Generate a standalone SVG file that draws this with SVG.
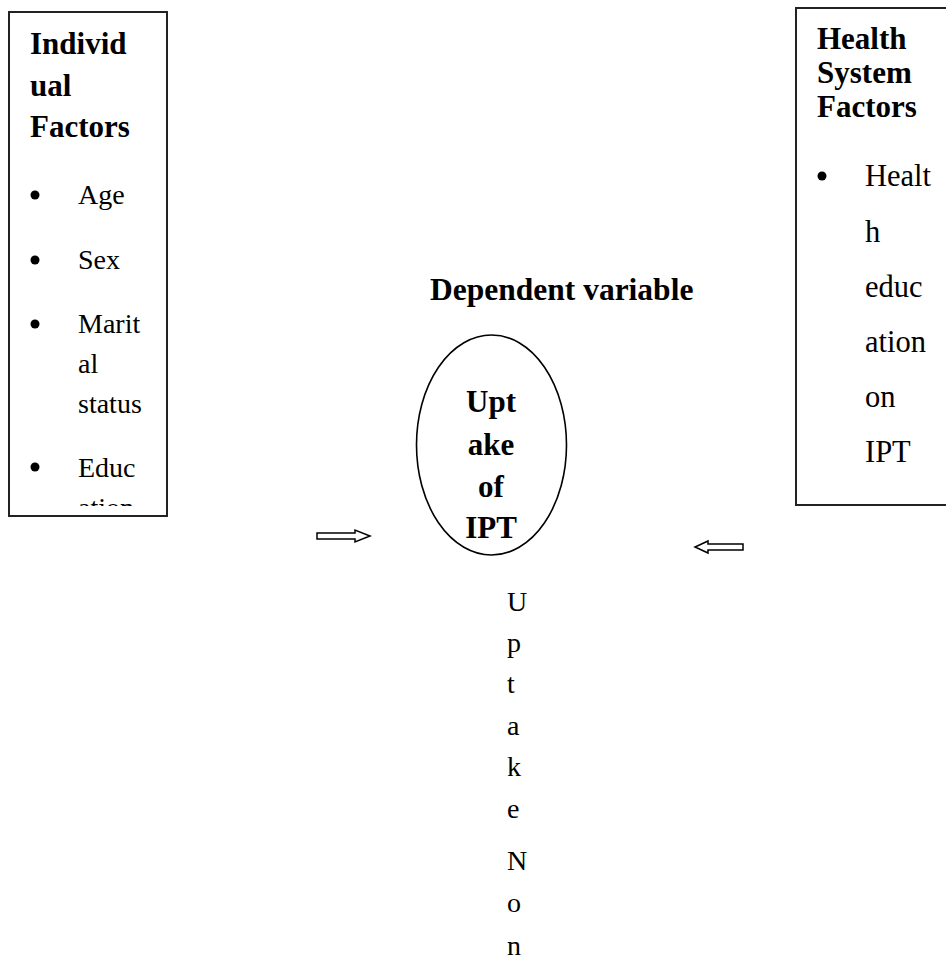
<svg xmlns="http://www.w3.org/2000/svg" width="946" height="973" viewBox="0 0 946 973">
<style>
.box{fill:#fff;stroke:#222;stroke-width:2}
.ell{fill:#fff;stroke:#000;stroke-width:1.6}
.h{font-family:"Liberation Serif","Times New Roman",serif;font-weight:bold;font-size:31px;fill:#000}
.t{font-family:"Liberation Serif","Times New Roman",serif;font-size:28px;fill:#000}
.t2{font-family:"Liberation Serif","Times New Roman",serif;font-size:30.5px;fill:#000}
.arr{fill:#fff;stroke:#000;stroke-width:1.5;stroke-linejoin:miter}
.dot{fill:#000}
</style>
<defs>
<clipPath id="clipL"><rect x="9" y="12" width="158" height="494"/></clipPath>
</defs>
<rect width="946" height="973" fill="#fff"/>
<g id="individual-factors">
<rect class="box" x="9" y="12" width="158" height="504"/>
<text class="h" x="30" y="54">Individ</text>
<text class="h" x="30" y="96">ual</text>
<text class="h" x="30" y="137">Factors</text>
<circle class="dot" cx="35" cy="195" r="4.5"/>
<text class="t" x="78" y="204">Age</text>
<circle class="dot" cx="35" cy="260" r="4.5"/>
<text class="t" x="78" y="269">Sex</text>
<circle class="dot" cx="35" cy="324" r="4.5"/>
<text class="t" x="78" y="333">Marit</text>
<text class="t" x="78" y="373">al</text>
<text class="t" x="78" y="413">status</text>
<circle class="dot" cx="35" cy="467" r="4.5"/>
<g clip-path="url(#clipL)">
<text class="t" x="78" y="477">Educ</text>
<text class="t" x="78" y="517">ation</text>
</g>
</g>
<g id="health-system-factors">
<rect class="box" x="796" y="8" width="160" height="497"/>
<text class="h" x="817" y="49">Health</text>
<text class="h" x="817" y="83">System</text>
<text class="h" x="817" y="117">Factors</text>
<circle class="dot" cx="822" cy="176" r="4.5"/>
<text class="t2" x="865" y="186">Healt</text>
<text class="t2" x="865" y="242">h</text>
<text class="t2" x="865" y="297">educ</text>
<text class="t2" x="865" y="352">ation</text>
<text class="t2" x="865" y="407">on</text>
<text class="t2" x="865" y="462">IPT</text>
</g>
<g id="dependent-label">
<text class="h" x="430" y="300" style="font-size:31.5px">Dependent variable</text>
</g>
<g id="uptake-of-ipt">
<ellipse class="ell" cx="491.5" cy="445" rx="75" ry="110"/>
<text class="h" x="491" y="412" text-anchor="middle">Upt</text>
<text class="h" x="491" y="455" text-anchor="middle">ake</text>
<text class="h" x="491" y="497" text-anchor="middle">of</text>
<text class="h" x="491" y="538" text-anchor="middle">IPT</text>
</g>
<g id="outcome-label">
<text class="t" x="507" y="611">U</text>
<text class="t" x="507" y="652">p</text>
<text class="t" x="507" y="693">t</text>
<text class="t" x="507" y="735">a</text>
<text class="t" x="507" y="776">k</text>
<text class="t" x="507" y="818">e</text>
<text class="t" x="507" y="870">N</text>
<text class="t" x="507" y="912">o</text>
<text class="t" x="507" y="955">n</text>
</g>
<g id="connectors">
<polygon class="arr" points="317,533 355,533 355,530 370,536 355,542 355,539 317,539"/>
<polygon class="arr" points="743,544 708,544 708,541 695,547 708,553 708,550 743,550"/>
</g>
</svg>
